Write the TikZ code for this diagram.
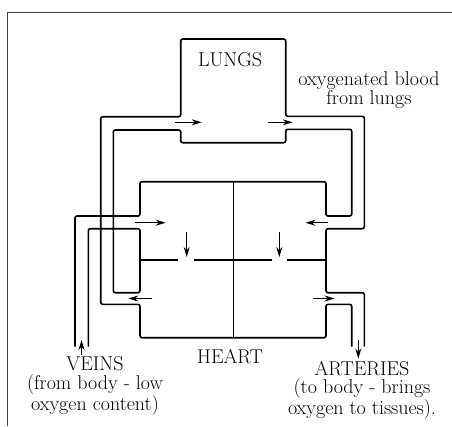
\documentclass[tikz,border=0pt]{standalone}
\usepackage{tikz}
\usetikzlibrary{arrows.meta, positioning}
\tikzset{
    wall/.style={
        line width=1.6pt,
        rounded corners=2pt
    },
    flow/.style={-{Stealth[length=10pt, width=6pt]}, line width=1.1pt},
    lbl/.style={font=\fontsize{20}{18.7}\selectfont, align=center, inner sep=0pt}
}

\begin{document}
\begin{tikzpicture}[x=1pt, y=-1pt]
    \useasboundingbox (0,0) rectangle (452,426);
    % frame
    \draw[line width=0.9pt, black!75] (7,426) -- (7,12) -- (452,12);

    % Vessels : inner loop and veins
    \draw[wall] (88.3,346.7) -- (88.3,228.7) -- (140,228.7) -- (140,292.7)
        -- (113.3,292.7) -- (113.3,130) -- (180.7,130) -- (180.7,142.7)
        -- (285.7,142.7) -- (285.7,129.3) -- (351.7,129.3) -- (351.7,216)
        -- (326,216) -- (326,181.7) -- (140,181.7) -- (140,216)
        -- (75,216) -- (75,346.7);
    % Vessels : outer loop, lungs and arteries
    \draw[wall] (351.7,346.7) -- (351.7,304.3) -- (326,304.3) -- (326,337.7)
        -- (140,337.7) -- (140,304.3) -- (100.7,304.3) -- (100.7,116.7)
        -- (180.7,116.7) -- (180.7,39) -- (285.7,39) -- (285.7,116.3)
        -- (364.3,116.3) -- (364.3,228.7) -- (326,228.7) -- (326,292.7)
        -- (364.3,292.7) -- (364.3,346.7);

    % Heart : septum and valves
    \draw[wall] (233.3,181.7) -- (233.3,337.7);
    \draw[wall] (140,260) -- (178.3,260);
    \draw[wall] (194.3,260) -- (271.7,260);
    \draw[wall] (287.3,260) -- (326,260);

    % Flow arrows
    \draw[flow] (175,122.3) -- (201.7,122.3);
    \draw[flow] (268.3,122.3) -- (292.7,122.3);
    \draw[flow] (135,222.7) -- (165.7,222.7);
    \draw[flow] (328,222.7) -- (305.5,222.7);
    \draw[flow] (152.3,298.5) -- (128.3,298.5);
    \draw[flow] (313,298.5) -- (334.5,298.5);
    \draw[flow] (186.7,232) -- (186.7,257);
    \draw[flow] (279.3,232) -- (279.3,257);
    \draw[flow] (81.5,355) -- (81.5,340);
    \draw[flow] (358.3,340) -- (358.3,358.5);

    % Labels
    \node[lbl] (lungs) at (230,59.3) {LUNGS};
    \node[lbl] (oxy) at (369,90) {oxygenated blood\\from lungs};
    \node[lbl] (heart) at (230,356.5) {HEART};
    \node[lbl] (veins) at (95,386) {VEINS\\(from body - low\\oxygen content)};
    \node[lbl] (arteries) at (362,390.5) {ARTERIES\\(to body - brings\\oxygen to tissues).};
\end{tikzpicture}
\end{document}
